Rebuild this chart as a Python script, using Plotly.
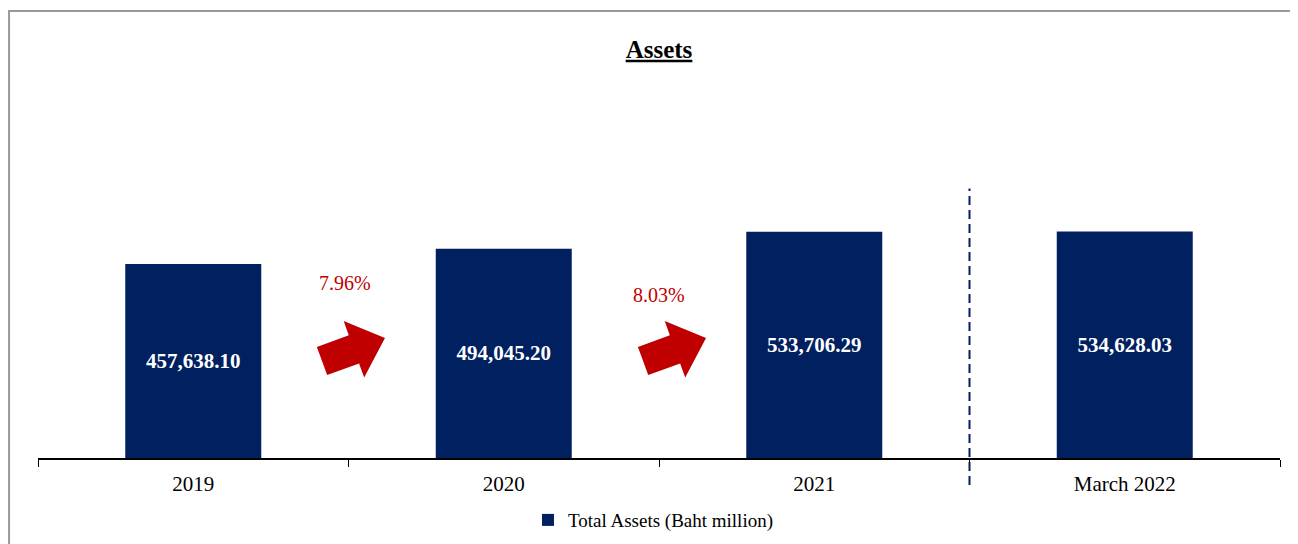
import math
import plotly.graph_objects as go

# Data
periods = ["2019", "2020", "2021", "March 2022"]
total_assets = [457638.10, 494045.20, 533706.29, 534628.03]
series_name = "Total Assets (Baht million)"

# growth between the first years, shown next to the red arrows
growth = [(total_assets[i + 1] / total_assets[i] - 1) * 100 for i in range(2)]

NAVY = "#002060"
RED = "#C00000"
FONT = "Liberation Serif"

# the page body adds an 8px offset, so the figure is drawn 8px smaller
W, H = 1290, 536

fig = go.Figure()

fig.add_trace(
    go.Bar(
        x=periods,
        y=total_assets,
        name=series_name,
        marker=dict(color=NAVY, line=dict(width=0)),
        texttemplate="%{y:,.2f}",
        textposition="inside",
        insidetextanchor="middle",
        textfont=dict(family=FONT, size=21, color="white", weight="bold"),
        constraintext="none",
        hoverinfo="skip",
    )
)


# block arrow, drawn in pixels around an anchor point
def arrow_path(angle_deg=20):
    pts = [(-33.5, 15), (0.5, 15), (0.5, 30), (33.5, 0),
           (0.5, -30), (0.5, -15), (-33.5, -15)]
    a = math.radians(angle_deg)
    rot = [(x * math.cos(a) - y * math.sin(a), x * math.sin(a) + y * math.cos(a)) for x, y in pts]
    return "M " + " L ".join(f"{x:.1f},{y:.1f}" for x, y in rot) + " Z"


shapes = []
arrow_x = [0.516, 1.55]
for ax in arrow_x:
    shapes.append(
        dict(
            type="path",
            xref="x", yref="y",
            xsizemode="pixel", ysizemode="pixel",
            xanchor=ax, yanchor=256000,
            path=arrow_path(),
            fillcolor=RED,
            line=dict(width=0),
        )
    )

# dashed separator before the latest quarter
shapes.append(
    dict(
        type="line", xref="x", yref="paper",
        x0=2.5, x1=2.5, y0=-0.08, y1=0.795,
        line=dict(color=NAVY, width=2, dash="9px,5px"),
    )
)

# grey outer frame
shapes.append(
    dict(
        type="rect", xref="paper", yref="paper",
        x0=-0.0233, x1=1.03, y0=-0.35, y1=1.3186,
        line=dict(color="#999999", width=2),
        fillcolor="rgba(0,0,0,0)",
        layer="below",
    )
)

annotations = []
pct_pos = [(0.49, 412000), (1.5, 384000)]
for (px, py), g in zip(pct_pos, growth):
    annotations.append(
        dict(
            x=px, y=py, xref="x", yref="y",
            text=f"{g:.2f}%",
            showarrow=False,
            font=dict(family=FONT, size=20, color=RED),
        )
    )

fig.update_layout(
    width=W,
    height=H,
    margin=dict(l=30, r=18, t=111, b=86, autoexpand=False),
    paper_bgcolor="white",
    plot_bgcolor="white",
    font=dict(family=FONT, color="black"),
    title=dict(
        text="<b><u>Assets</u></b>",
        x=0.5,
        xref="paper",
        y=1 - 41 / H,
        yref="container",
        yanchor="middle",
        font=dict(family=FONT, size=25, color="black"),
    ),
    bargap=0.562,
    showlegend=True,
    legend=dict(
        orientation="h",
        x=0.3945, xanchor="left",
        y=-0.183, yanchor="middle",
        font=dict(family=FONT, size=19, color="black"),
        itemwidth=30,
    ),
    xaxis=dict(
        range=[-0.5, 3.5],
        showline=True,
        linecolor="black",
        linewidth=1.5,
        ticks="outside",
        tickson="boundaries",
        ticklen=7,
        tickcolor="black",
        tickfont=dict(family=FONT, size=21, color="black"),
        ticklabelstandoff=6,
        showgrid=False,
        zeroline=False,
    ),
    yaxis=dict(
        range=[0, 800000],
        visible=False,
        showgrid=False,
        zeroline=False,
    ),
    shapes=shapes,
    annotations=annotations,
)

fig.write_html("out.html")
